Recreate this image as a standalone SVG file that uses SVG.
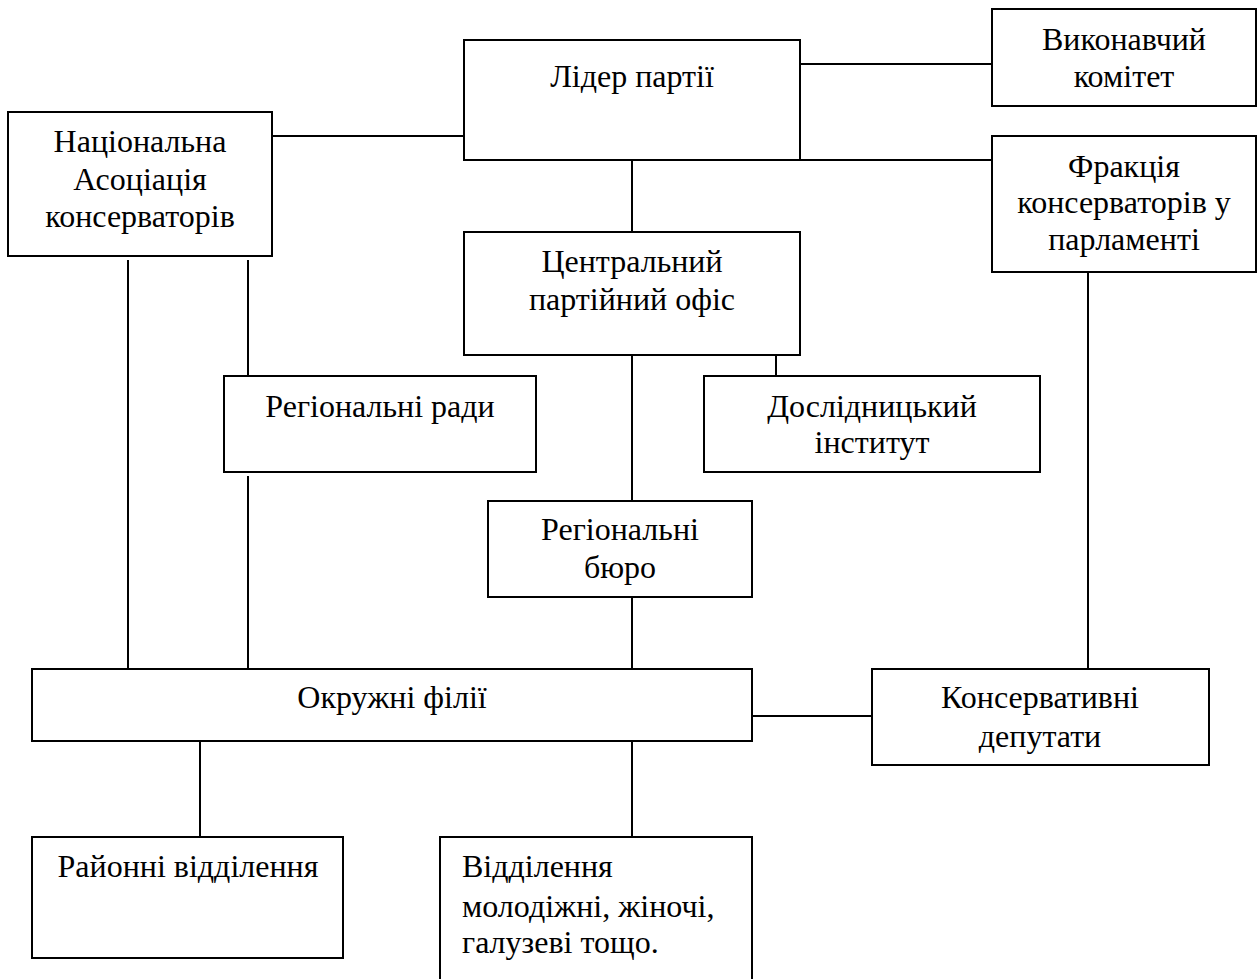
<svg xmlns="http://www.w3.org/2000/svg" width="1258" height="979" viewBox="0 0 1258 979">
<style>
.box{fill:#fff;stroke:#000;stroke-width:2}
.ln{stroke:#000;stroke-width:2;fill:none}
text{font-family:"Liberation Serif","Times New Roman",serif;font-size:32px;fill:#000;text-anchor:middle}
.l{text-anchor:start}
</style>
<rect width="1258" height="979" fill="#fff"/>
<g id="connectors">
<line class="ln" x1="272" y1="136" x2="464" y2="136"/>
<line class="ln" x1="800" y1="64" x2="992" y2="64"/>
<line class="ln" x1="800" y1="160" x2="992" y2="160"/>
<line class="ln" x1="632" y1="160" x2="632" y2="232"/>
<line class="ln" x1="128" y1="260" x2="128" y2="669"/>
<line class="ln" x1="248" y1="260" x2="248" y2="382"/>
<line class="ln" x1="248" y1="476" x2="248" y2="669"/>
<line class="ln" x1="776" y1="355" x2="776" y2="379"/>
<line class="ln" x1="632" y1="355" x2="632" y2="501"/>
<line class="ln" x1="632" y1="597" x2="632" y2="669"/>
<line class="ln" x1="1088" y1="272" x2="1088" y2="680"/>
<line class="ln" x1="752" y1="716" x2="872" y2="716"/>
<line class="ln" x1="200" y1="741" x2="200" y2="837"/>
<line class="ln" x1="632" y1="741" x2="632" y2="837"/>
</g>
<g id="leader"><rect class="box" x="464" y="40" width="336" height="120"/><text x="632" y="87">Лідер партії</text></g>
<g id="exec"><rect class="box" x="992" y="9" width="264" height="97"/><text x="1124" y="50">Виконавчий</text><text x="1124" y="87">комітет</text></g>
<g id="national"><rect class="box" x="8" y="112" width="264" height="144"/><text x="140" y="152">Національна</text><text x="140" y="190">Асоціація</text><text x="140" y="227">консерваторів</text></g>
<g id="fraction"><rect class="box" x="992" y="136" width="264" height="136"/><text x="1124" y="177">Фракція</text><text x="1124" y="213">консерваторів у</text><text x="1124" y="250">парламенті</text></g>
<g id="central"><rect class="box" x="464" y="232" width="336" height="123"/><text x="632" y="272">Центральний</text><text x="632" y="310">партійний офіс</text></g>
<g id="regcouncils"><rect class="box" x="224" y="376" width="312" height="96"/><text x="380" y="417">Регіональні ради</text></g>
<g id="institute"><rect class="box" x="704" y="376" width="336" height="96"/><text x="872" y="417">Дослідницький</text><text x="872" y="453">інститут</text></g>
<g id="bureau"><rect class="box" x="488" y="501" width="264" height="96"/><text x="620" y="540">Регіональні</text><text x="620" y="578">бюро</text></g>
<g id="district"><rect class="box" x="32" y="669" width="720" height="72"/><text x="392" y="708">Окружні філії</text></g>
<g id="deputies"><rect class="box" x="872" y="669" width="337" height="96"/><text x="1040" y="708">Консервативні</text><text x="1040" y="747">депутати</text></g>
<g id="rayon"><rect class="box" x="32" y="837" width="311" height="121"/><text x="188" y="877">Районні відділення</text></g>
<g id="branches"><rect class="box" x="440" y="837" width="312" height="160"/><text class="l" x="462" y="877">Відділення</text><text class="l" x="462" y="917">молодіжні, жіночі,</text><text class="l" x="462" y="953">галузеві тощо.</text></g>
</svg>
